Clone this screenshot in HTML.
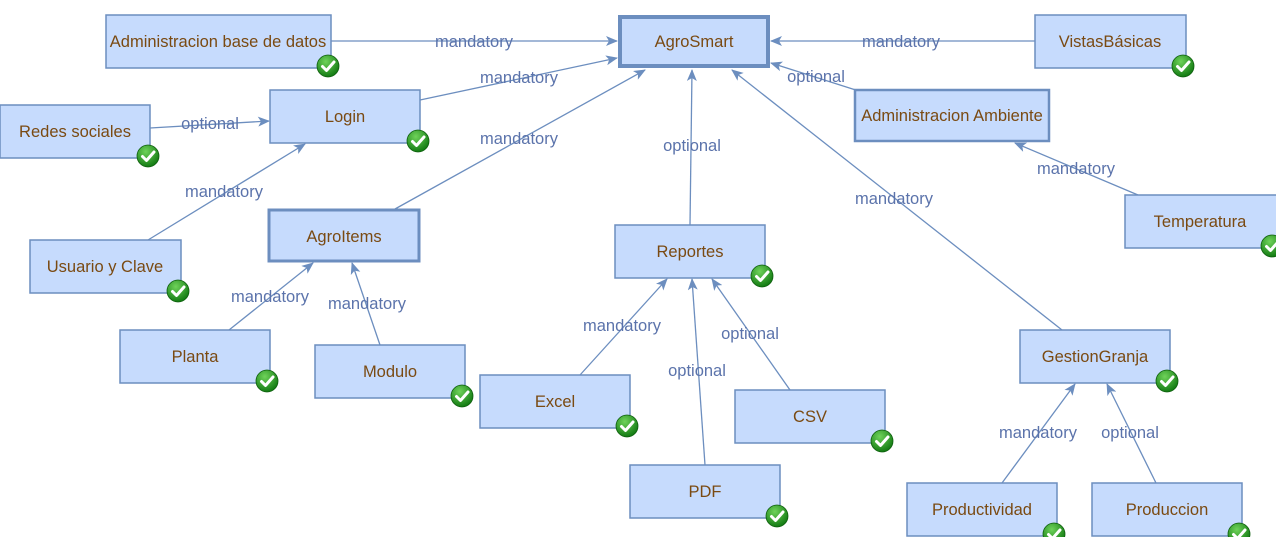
<!DOCTYPE html>
<html><head><meta charset="utf-8"><style>
html,body{margin:0;padding:0;background:#fff;width:1276px;height:537px;overflow:hidden}
svg text{font-family:"Liberation Sans",Arial,sans-serif}
.n{fill:#c6dbfd;stroke:#6c8ebf;stroke-width:1.5}
.t{fill:#7a4a12;font-size:16.5px;text-anchor:middle;dominant-baseline:central}
.e{stroke:#6c8ebf;stroke-width:1.3;fill:none;marker-end:url(#a)}
.l{fill:#5b73ab;font-size:16.5px;text-anchor:middle;dominant-baseline:central}
</style></head><body>
<svg width="1276" height="537" viewBox="0 0 1276 537" xmlns="http://www.w3.org/2000/svg">
<defs>
<marker id="a" viewBox="0 0 12 10" refX="11" refY="5" markerWidth="12" markerHeight="10" markerUnits="userSpaceOnUse" orient="auto">
<path d="M0,0 L12,5 L0,10 L3,5 Z" fill="#6c8ebf"/></marker>
<radialGradient id="g" cx="40%" cy="30%" r="70%"><stop offset="0" stop-color="#6fd35a"/><stop offset="1" stop-color="#127a12"/></radialGradient>
<g id="c"><circle r="11" fill="url(#g)" stroke="#0d5e0d" stroke-width="0.8"/><path d="M-5.5,0.5 L-1.5,4.5 L6,-4" stroke="#fff" stroke-width="3" fill="none" stroke-linecap="round" stroke-linejoin="round"/></g>
</defs>
<g transform="translate(0,1)">
<line class="e" x1="331" y1="40" x2="617" y2="40"/><text class="l" x="474" y="41">mandatory</text>
<line class="e" x1="1035" y1="40" x2="771" y2="40"/><text class="l" x="901" y="41">mandatory</text>
<line class="e" x1="420" y1="99" x2="617" y2="57"/><text class="l" x="519" y="77">mandatory</text>
<line class="e" x1="395" y1="208" x2="645" y2="69"/><text class="l" x="519" y="138">mandatory</text>
<line class="e" x1="690" y1="224" x2="692" y2="69"/><text class="l" x="692" y="145">optional</text>
<line class="e" x1="1062" y1="329" x2="732" y2="69"/><text class="l" x="894" y="198">mandatory</text>
<line class="e" x1="862" y1="91" x2="771" y2="62"/><text class="l" x="816" y="76">optional</text>
<line class="e" x1="1138" y1="194" x2="1015" y2="142"/><text class="l" x="1076" y="168">mandatory</text>
<line class="e" x1="150" y1="127" x2="269" y2="120"/><text class="l" x="210" y="123">optional</text>
<line class="e" x1="148" y1="239" x2="305" y2="143"/><text class="l" x="224" y="191">mandatory</text>
<line class="e" x1="229" y1="329" x2="313" y2="262"/><text class="l" x="270" y="296">mandatory</text>
<line class="e" x1="380" y1="344" x2="352" y2="262"/><text class="l" x="367" y="303">mandatory</text>
<line class="e" x1="580" y1="374" x2="667" y2="278"/><text class="l" x="622" y="325">mandatory</text>
<line class="e" x1="705" y1="464" x2="692" y2="278"/><text class="l" x="697" y="370">optional</text>
<line class="e" x1="790" y1="389" x2="712" y2="278"/><text class="l" x="750" y="333">optional</text>
<line class="e" x1="1002" y1="482" x2="1075" y2="383"/><text class="l" x="1038" y="432">mandatory</text>
<line class="e" x1="1156" y1="482" x2="1107" y2="383"/><text class="l" x="1130" y="432">optional</text>
</g>
<rect class="n" x="106" y="15" width="225" height="53"/><text class="t" x="218" y="42">Administracion base de datos</text><use href="#c" x="328" y="66"/>
<rect class="n" x="620" y="17" width="148" height="49" style="stroke-width:4"/><text class="t" x="694" y="42">AgroSmart</text>
<rect class="n" x="1035" y="15" width="151" height="53"/><text class="t" x="1110" y="42">VistasBásicas</text><use href="#c" x="1183" y="66"/>
<rect class="n" x="270" y="90" width="150" height="53"/><text class="t" x="345" y="117">Login</text><use href="#c" x="418" y="141"/>
<rect class="n" x="0" y="105" width="150" height="53"/><text class="t" x="75" y="132">Redes sociales</text><use href="#c" x="148" y="156"/>
<rect class="n" x="855" y="90" width="194" height="51" style="stroke-width:2.5"/><text class="t" x="952" y="116">Administracion Ambiente</text>
<rect class="n" x="1125" y="195" width="152" height="53"/><text class="t" x="1200" y="222">Temperatura</text><use href="#c" x="1272" y="246"/>
<rect class="n" x="30" y="240" width="151" height="53"/><text class="t" x="105" y="267">Usuario y Clave</text><use href="#c" x="178" y="291"/>
<rect class="n" x="269" y="210" width="150" height="51" style="stroke-width:3"/><text class="t" x="344" y="237">AgroItems</text>
<rect class="n" x="615" y="225" width="150" height="53"/><text class="t" x="690" y="252">Reportes</text><use href="#c" x="762" y="276"/>
<rect class="n" x="120" y="330" width="150" height="53"/><text class="t" x="195" y="357">Planta</text><use href="#c" x="267" y="381"/>
<rect class="n" x="315" y="345" width="150" height="53"/><text class="t" x="390" y="372">Modulo</text><use href="#c" x="462" y="396"/>
<rect class="n" x="480" y="375" width="150" height="53"/><text class="t" x="555" y="402">Excel</text><use href="#c" x="627" y="426"/>
<rect class="n" x="735" y="390" width="150" height="53"/><text class="t" x="810" y="417">CSV</text><use href="#c" x="882" y="441"/>
<rect class="n" x="630" y="465" width="150" height="53"/><text class="t" x="705" y="492">PDF</text><use href="#c" x="777" y="516"/>
<rect class="n" x="1020" y="330" width="150" height="53"/><text class="t" x="1095" y="357">GestionGranja</text><use href="#c" x="1167" y="381"/>
<rect class="n" x="907" y="483" width="150" height="53"/><text class="t" x="982" y="510">Productividad</text><use href="#c" x="1054" y="534"/>
<rect class="n" x="1092" y="483" width="150" height="53"/><text class="t" x="1167" y="510">Produccion</text><use href="#c" x="1239" y="534"/>
</svg>
</body></html>
